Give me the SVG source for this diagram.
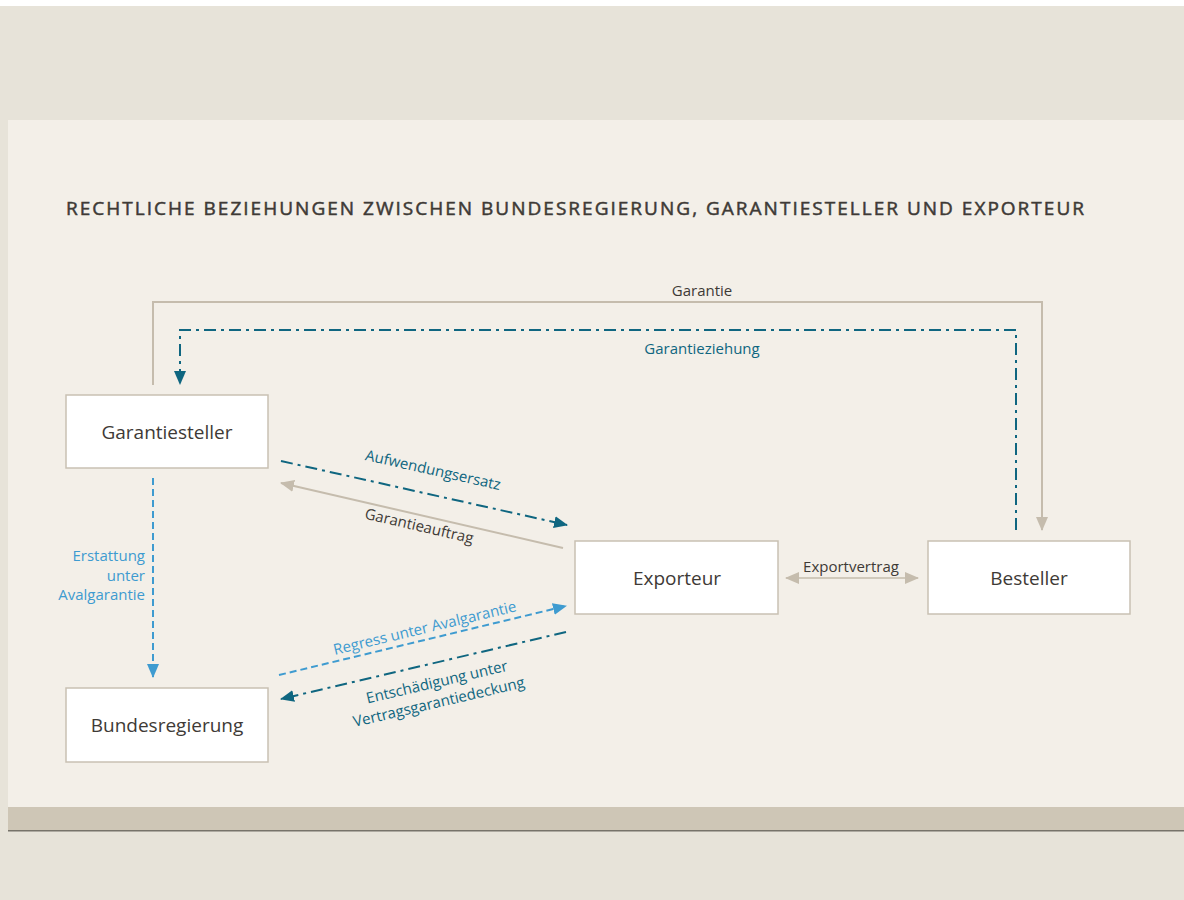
<svg xmlns="http://www.w3.org/2000/svg" width="1184" height="900" viewBox="0 0 1184 900">
<defs>
<style>
.box{fill:#ffffff;stroke:#C9C1B3;stroke-width:1.5}
.nt{font-family:"Open Sans","Liberation Sans",sans-serif;font-size:19px;fill:#3E3A36;text-anchor:middle}
.lbl{font-family:"Open Sans","Liberation Sans",sans-serif;font-size:15px}
.grey{stroke:#C5BCAD;stroke-width:2;fill:none}
.teal{stroke:#0F6680;stroke-width:2;fill:none;stroke-dasharray:12,5,3,5}
.blue{stroke:#3E9BD0;stroke-width:2;fill:none;stroke-dasharray:7,4}
</style>
<marker id="agL" viewBox="0 0 14 12" refX="13" refY="6" markerWidth="14" markerHeight="12" orient="auto-start-reverse" markerUnits="userSpaceOnUse"><path d="M0,0L14,6L0,12z" fill="#C5BCAD"/></marker>
<marker id="at" viewBox="0 0 14 12" refX="13" refY="6" markerWidth="14" markerHeight="12" orient="auto" markerUnits="userSpaceOnUse"><path d="M0,0L14,6L0,12z" fill="#0F6680"/></marker>
<marker id="ab" viewBox="0 0 14 12" refX="13" refY="6" markerWidth="14" markerHeight="12" orient="auto" markerUnits="userSpaceOnUse"><path d="M0,0L14,6L0,12z" fill="#3E9BD0"/></marker>
</defs>
<rect x="0" y="0" width="1184" height="900" fill="#ffffff"/>
<rect x="0" y="6" width="1184" height="894" fill="#E7E3D9"/>
<rect x="8" y="120" width="1176" height="687" fill="#F3EFE8"/>
<rect x="8" y="807" width="1176" height="23" fill="#CEC6B6"/>
<rect x="8" y="830" width="1176" height="1.5" fill="#77736A"/>
<text x="66" y="215" font-family="'Open Sans','Liberation Sans',sans-serif" font-size="19" textLength="1018" lengthAdjust="spacing" fill="#3E3A36" stroke="#3E3A36" stroke-width="0.5">RECHTLICHE BEZIEHUNGEN ZWISCHEN BUNDESREGIERUNG, GARANTIESTELLER UND EXPORTEUR</text>
<g id="connectors">
<path class="grey" d="M153,385V302H1042V530" marker-end="url(#agL)"/>
<text class="lbl" x="702" y="296" text-anchor="middle" fill="#3E3A36">Garantie</text>
<path class="teal" d="M1016,530V330H180V384" marker-end="url(#at)"/>
<text class="lbl" x="702" y="354" text-anchor="middle" fill="#0F6680">Garantieziehung</text>
<path class="teal" d="M281,461L567,525" marker-end="url(#at)"/>
<text class="lbl" x="432" y="475" text-anchor="middle" fill="#0F6680" transform="rotate(12.6 432 475)">Aufwendungsersatz</text>
<path class="grey" d="M563,548L281,483" marker-end="url(#agL)"/>
<text class="lbl" x="418" y="531" text-anchor="middle" fill="#3E3A36" transform="rotate(13 418 531)">Garantieauftrag</text>
<path class="blue" d="M279,675L566,606" marker-end="url(#ab)"/>
<text class="lbl" x="426" y="633" text-anchor="middle" fill="#3E9BD0" transform="rotate(-13.5 426 633)">Regress unter Avalgarantie</text>
<path class="teal" d="M566,632L281,699" marker-end="url(#at)"/>
<text class="lbl" x="438" y="687" text-anchor="middle" fill="#0F6680" transform="rotate(-13.2 438 687)">Entschädigung unter</text>
<text class="lbl" x="440" y="707" text-anchor="middle" fill="#0F6680" transform="rotate(-13.2 440 707)">Vertragsgarantiedeckung</text>
<path class="blue" d="M153,478V677" marker-end="url(#ab)"/>
<text class="lbl" x="145" y="561" text-anchor="end" fill="#3E9BD0">Erstattung</text>
<text class="lbl" x="145" y="581" text-anchor="end" fill="#3E9BD0">unter</text>
<text class="lbl" x="145" y="600" text-anchor="end" fill="#3E9BD0">Avalgarantie</text>
<path class="grey" d="M786,578H918" marker-start="url(#agL)" marker-end="url(#agL)" style="stroke-width:1.5"/>
<text class="lbl" x="851" y="572" text-anchor="middle" fill="#3E3A36">Exportvertrag</text>
</g>
<g id="garantiesteller"><rect class="box" x="66" y="395" width="202" height="73"/><text class="nt" x="167" y="439">Garantiesteller</text></g>
<g id="bundesregierung"><rect class="box" x="66" y="688" width="202" height="74"/><text class="nt" x="167" y="732">Bundesregierung</text></g>
<g id="exporteur"><rect class="box" x="575" y="541" width="203" height="73"/><text class="nt" x="677" y="585">Exporteur</text></g>
<g id="besteller"><rect class="box" x="928" y="541" width="202" height="73"/><text class="nt" x="1029" y="585">Besteller</text></g>
</svg>
